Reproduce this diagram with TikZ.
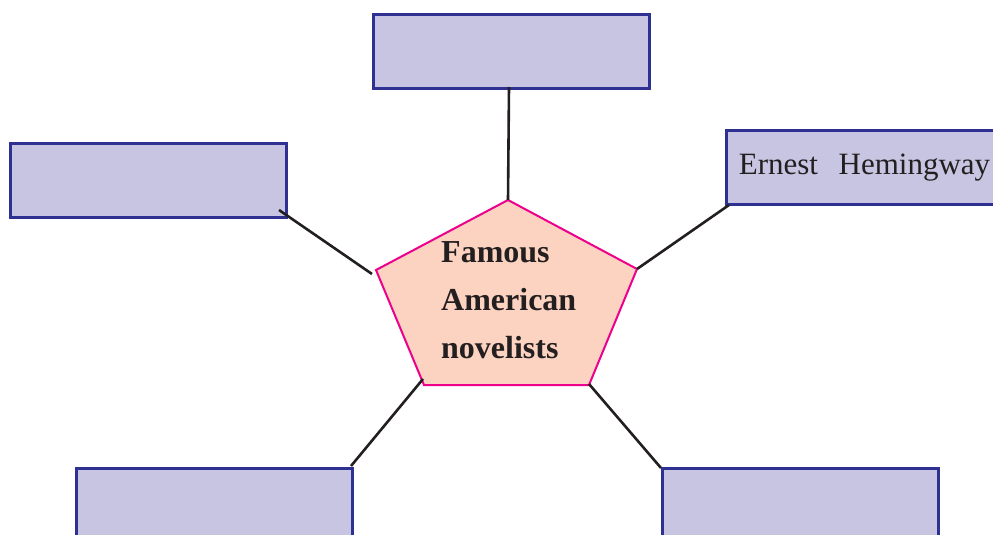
\documentclass[tikz,border=0pt]{standalone}
\usepackage{fontspec}
\setmainfont{Liberation Serif}
\definecolor{boxfill}{RGB}{199,197,226}
\definecolor{boxline}{RGB}{46,49,146}
\definecolor{pentfill}{RGB}{252,211,193}
\definecolor{pentline}{RGB}{236,0,140}
\definecolor{ink}{RGB}{35,31,32}
\tikzset{
  slot/.style={draw=boxline, fill=boxfill, line width=2.6pt, rectangle, minimum width=276pt, minimum height=74pt, anchor=north west, inner sep=0pt},
  link/.style={draw=ink, line width=2.6pt},
}
\begin{document}
\begin{tikzpicture}[x=1pt,y=-1pt]
\useasboundingbox (0,0) rectangle (993,535);
\clip (0,0) rectangle (993,535);
% boxes
\node[slot] (top) at (372,13) {};
\node[slot] (left) at (9,142) {};
\node[slot, minimum width=290pt, text width=276pt, align=left, inner xsep=12.5pt, font=\fontsize{31}{36}\selectfont, text=ink] (right) at (725,129) {Ernest\ \ Hemingway};
\node[slot, minimum height=90pt] (bl) at (75,467) {};
\node[slot, minimum height=90pt] (br) at (661,467) {};
% pentagon
\coordinate (pt) at (508,200);
\coordinate (pr) at (637,269);
\coordinate (pbr) at (589,385);
\coordinate (pbl) at (424,385);
\coordinate (pl) at (376,270);
\draw[draw=pentline, fill=pentfill, line width=2pt, line join=miter] (pt) -- (pr) -- (pbr) -- (pbl) -- (pl) -- cycle;
\node[anchor=north west, align=left, inner sep=0pt, text=ink, font=\bfseries\fontsize{32}{48}\selectfont] (title) at (441,241) {Famous\\American\\novelists};
% connectors
\coordinate (ltop) at (509,87);
\coordinate (lleft) at (279,210);
\coordinate (lleftend) at (372,274);
\coordinate (lright) at (729,205);
\coordinate (lblstart) at (423,379);
\coordinate (lblend) at (351,466);
\coordinate (lbrstart) at (589,384);
\coordinate (lbrend) at (661,468);
\draw[link] (ltop) -- (pt);
\draw[link] (lleft) -- (lleftend);
\draw[link] (pr) -- (lright);
\draw[link] (lblstart) -- (lblend);
\draw[link] (lbrstart) -- (lbrend);
\end{tikzpicture}
\end{document}
